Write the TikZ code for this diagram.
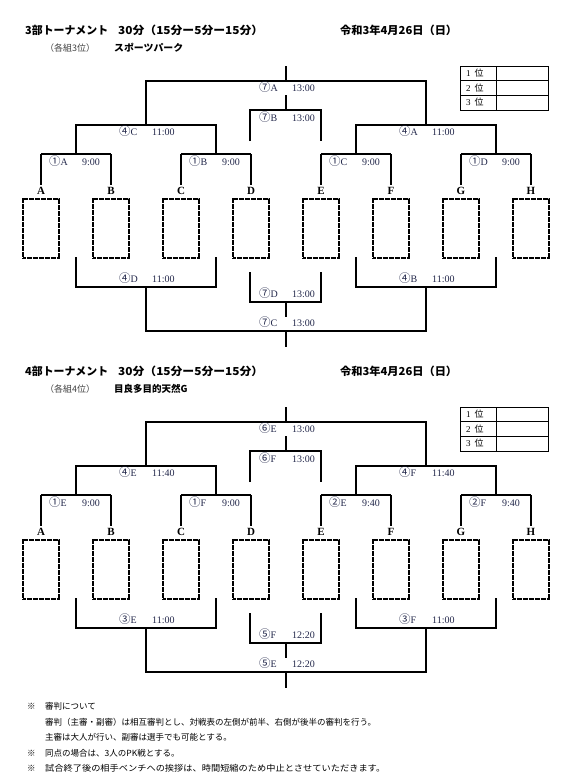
\documentclass[tikz,border=0pt]{standalone}
\usepackage{fontspec}
\setmainfont{Liberation Serif}
\newfontfamily\jp{Noto Sans CJK JP}
\definecolor{lab}{RGB}{35,40,75}
\tikzset{
  br/.style={line width=1.1pt},
  dotbox/.style={draw, line width=1.4pt, dash pattern=on 0.6pt off 0.6pt, minimum width=36pt, minimum height=59pt, inner sep=0pt},
  lbl/.style={anchor=base west, inner sep=0pt, font=\fontsize{10}{10}\selectfont, text=lab},
  letter/.style={inner sep=0pt, font=\fontsize{11}{11}\selectfont\bfseries},
  ttl/.style={anchor=west, inner sep=0pt, font=\jp\bfseries\fontsize{11}{11}\selectfont},
  sub/.style={anchor=west, inner sep=0pt, text=black!75, font=\jp\fontsize{9}{9}\selectfont},
  subb/.style={anchor=west, inner sep=0pt, font=\jp\bfseries\fontsize{9.5}{9.5}\selectfont},
  tbl/.style={anchor=west, inner sep=0pt, font=\fontsize{9}{9}\selectfont},
  foot/.style={anchor=west, inner sep=0pt, font=\jp\fontsize{8.5}{8.5}\selectfont},
}
\newcommand\mlab[6]{%
  \node[lbl] (#1c) at (#2-27,#3+3.5) {{\jp\fontsize{11.5}{11.5}\selectfont #4}#5};
  \node[lbl] (#1t) at (#2+6,#3+3.5) {#6};
}
\newcommand\frameparts{%
  % upper bracket
  \draw[br] (286,66) -- (286,81);
  \draw[br] (146,125) -- (146,81) -- (426,81) -- (426,125);
  \draw[br] (76,154) -- (76,125) -- (216,125) -- (216,154);
  \draw[br] (356,154) -- (356,125) -- (496,125) -- (496,154);
  \draw[br] (41,154) -- (111,154);
  \draw[br] (181,154) -- (251,154);
  \draw[br] (321,154) -- (391,154);
  \draw[br] (461,154) -- (531,154);
  \draw[br] (286,95) -- (286,110);
  \draw[br] (250,141) -- (250,110) -- (321,110) -- (321,141);
  % boxes, letters
  \foreach \L/\x in {A/41,B/111,C/181,D/251,E/321,F/391,G/461,H/531}{
    \node[dotbox] (box\L) at (\x,228.5) {};
    \node[letter] (let\L) at (\x,191) {\L};
    \draw[br] (\x,154) -- (\x,185);
  }
  % lower bracket
  \draw[br] (76,257) -- (76,287) -- (216,287) -- (216,257);
  \draw[br] (356,257) -- (356,287) -- (496,287) -- (496,257);
  \draw[br] (146,287) -- (146,331) -- (426,331) -- (426,287);
  \draw[br] (250,272) -- (250,302) -- (321,302) -- (321,272);
  \draw[br] (286,302) -- (286,317);
  \draw[br] (286,331) -- (286,347);
  % ranking table
  \draw[line width=0.9pt] (460,66) rectangle (548,110);
  \draw[line width=0.9pt] (460,80.5) -- (548,80.5) (460,95) -- (548,95) (496,66) -- (496,110);
  \node[tbl] (r1) at (466,73.3) {1\hspace{4pt}{\jp 位}};
  \node[tbl] (r2) at (466,87.8) {2\hspace{4pt}{\jp 位}};
  \node[tbl] (r3) at (466,102.5) {3\hspace{4pt}{\jp 位}};
}
\begin{document}
\begin{tikzpicture}[x=1pt,y=-1pt]
\useasboundingbox (0,0) rectangle (562,782);
\fill[white] (0,0) rectangle (562,782);

\begin{scope}[name prefix=s1-]
  \node[ttl] (ta) at (25,30) {\resizebox{83pt}{\height}{3部トーナメント}};
  \node[ttl] (tb) at (118,30) {\resizebox{145pt}{\height}{30分（15分ー5分ー15分）}};
  \node[ttl] (tc) at (340,30) {\resizebox{117pt}{\height}{令和3年4月26日（日）}};
  \node[sub] (td) at (45,48) {（各組3位）};
  \node[subb] (te) at (114,48) {\resizebox{69pt}{\height}{スポーツパーク}};
  \frameparts
  \mlab{la}{286}{88}{⑦}{A}{13:00}
  \mlab{lb}{286}{118}{⑦}{B}{13:00}
  \mlab{lc}{146}{132}{④}{C}{11:00}
  \mlab{ld}{426}{132}{④}{A}{11:00}
  \mlab{le}{76}{162}{①}{A}{9:00}
  \mlab{lf}{216}{162}{①}{B}{9:00}
  \mlab{lg}{356}{162}{①}{C}{9:00}
  \mlab{lh}{496}{162}{①}{D}{9:00}
  \mlab{li}{146}{279}{④}{D}{11:00}
  \mlab{lj}{426}{279}{④}{B}{11:00}
  \mlab{lk}{286}{294}{⑦}{D}{13:00}
  \mlab{ll}{286}{323}{⑦}{C}{13:00}
\end{scope}

\begin{scope}[yshift=-341pt, name prefix=s2-]
  \node[ttl] (ta) at (25,30) {\resizebox{83pt}{\height}{4部トーナメント}};
  \node[ttl] (tb) at (118,30) {\resizebox{145pt}{\height}{30分（15分ー5分ー15分）}};
  \node[ttl] (tc) at (340,30) {\resizebox{117pt}{\height}{令和3年4月26日（日）}};
  \node[sub] (td) at (45,48) {（各組4位）};
  \node[subb] (te) at (114,48) {目良多目的天然G};
  \frameparts
  \mlab{la}{286}{88}{⑥}{E}{13:00}
  \mlab{lb}{286}{118}{⑥}{F}{13:00}
  \mlab{lc}{146}{132}{④}{E}{11:40}
  \mlab{ld}{426}{132}{④}{F}{11:40}
  \mlab{le}{76}{162}{①}{E}{9:00}
  \mlab{lf}{216}{162}{①}{F}{9:00}
  \mlab{lg}{356}{162}{②}{E}{9:40}
  \mlab{lh}{496}{162}{②}{F}{9:40}
  \mlab{li}{146}{279}{③}{E}{11:00}
  \mlab{lj}{426}{279}{③}{F}{11:00}
  \mlab{lk}{286}{294}{⑤}{F}{12:20}
  \mlab{ll}{286}{323}{⑤}{E}{12:20}
\end{scope}

\node[foot] (k1) at (27,706) {※};
\node[foot] (f1) at (45,706) {審判について};
\node[foot] (f2) at (45,722) {審判（主審・副審）は相互審判とし、対戦表の左側が前半、右側が後半の審判を行う。};
\node[foot] (f3) at (45,737) {主審は大人が行い、副審は選手でも可能とする。};
\node[foot] (k4) at (27,753) {※};
\node[foot] (f4) at (45,753) {同点の場合は、3人のPK戦とする。};
\node[foot] (k5) at (27,768) {※};
\node[foot] (f5) at (45,768) {\resizebox{340pt}{\height}{試合終了後の相手ベンチへの挨拶は、時間短縮のため中止とさせていただきます。}};
\end{tikzpicture}
\end{document}
